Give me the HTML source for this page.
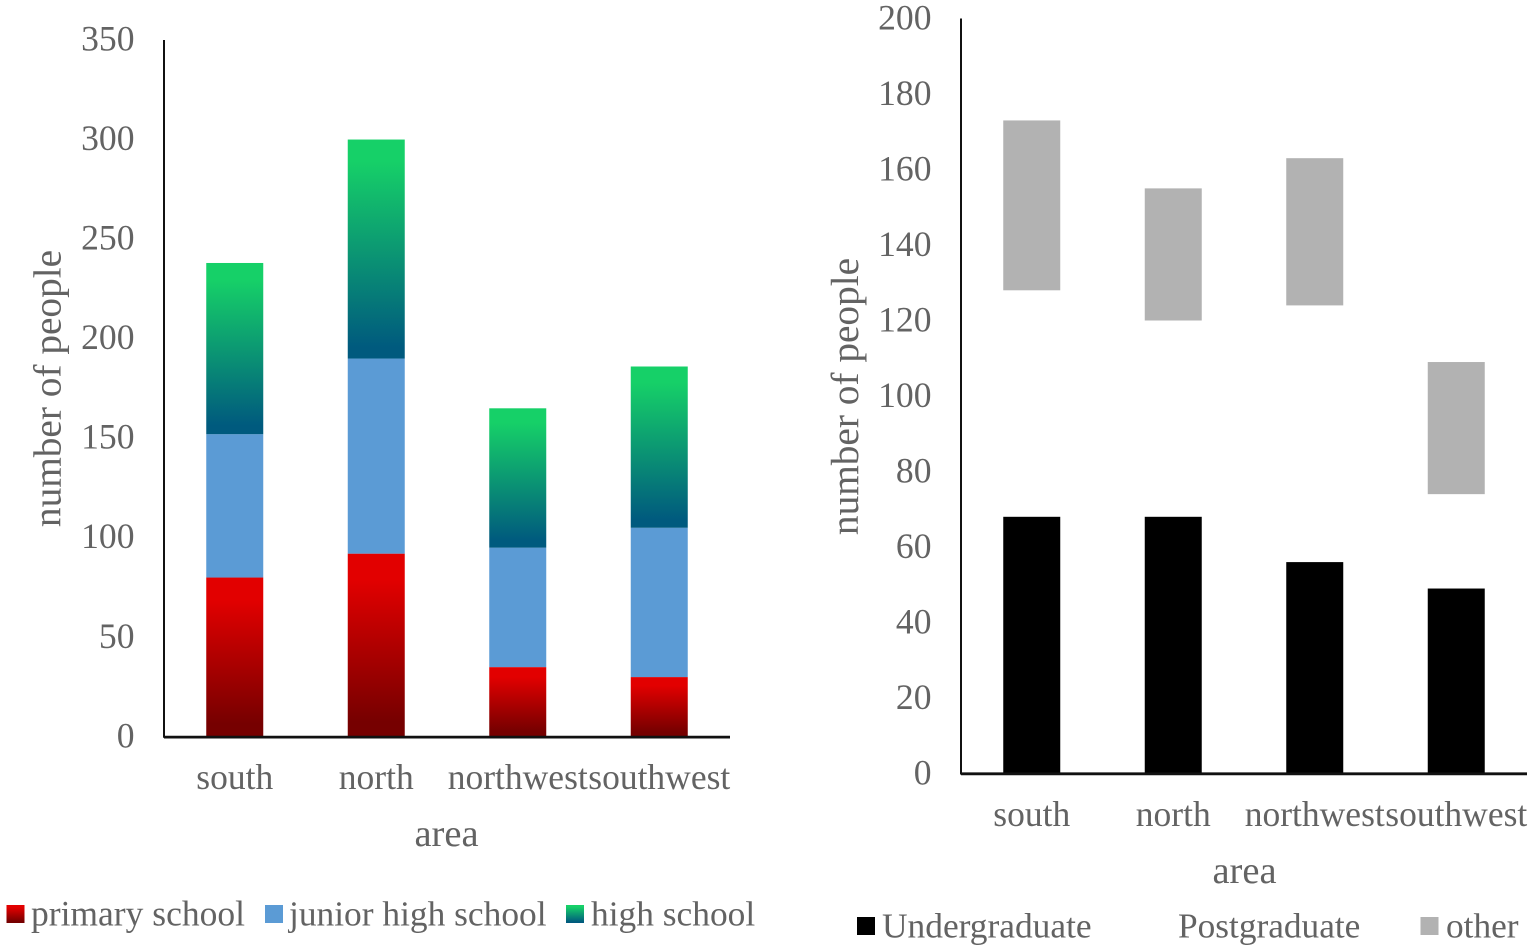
<!DOCTYPE html>
<html>
<head>
<meta charset="utf-8">
<style>
html,body{margin:0;padding:0;background:#fff;width:1535px;height:952px;overflow:hidden}
svg{display:block}
text{font-family:"Liberation Serif",serif;fill:#636363}
</style>
</head>
<body>
<svg id="figure" width="1535" height="952" viewBox="0 0 1535 952" xmlns="http://www.w3.org/2000/svg">
<defs>
<linearGradient id="grad-red" x1="0" y1="0" x2="0" y2="1">
<stop offset="0.14" stop-color="#e20000"/><stop offset="0.92" stop-color="#760000"/>
</linearGradient>
<linearGradient id="grad-green" x1="0" y1="0" x2="0" y2="1">
<stop offset="0.1" stop-color="#16d068"/><stop offset="0.95" stop-color="#005a7e"/>
</linearGradient>
</defs>
<g id="left-chart"></g>
<g id="right-chart"></g>
<g>
<g>
<rect x="6.5" y="905" width="18" height="18" fill="url(#grad-red)"/>
<text x="31" y="925.5" font-size="35.5">primary school</text>
</g>
<g>
<rect x="265" y="905" width="18" height="18" fill="#5b9bd5"/>
<text x="289" y="925.5" font-size="35.4">junior high school</text>
</g>
<g>
<rect x="566" y="905" width="18" height="18" fill="url(#grad-green)"/>
<text x="591" y="925.5" font-size="35.4">high school</text>
</g>
</g>
<g>
<g>
<rect x="857" y="917" width="18" height="18" fill="#000"/>
<text x="882" y="937.5" font-size="35.4">Undergraduate</text>
</g>
<g>
<text x="1178" y="937.5" font-size="35.3">Postgraduate</text>
</g>
<g>
<rect x="1420.5" y="917" width="18" height="18" fill="#b2b2b2"/>
<text x="1446" y="937.5" font-size="35.3">other</text>
</g>
</g>
</svg>
<script>
const categories = ['south', 'north', 'northwest', 'southwest'];
const primarySchool = [80, 92, 35, 30];
const juniorHighSchool = [72, 98, 60, 75];
const highSchool = [86, 110, 70, 81];
const undergraduate = [68, 68, 56, 49];
const postgraduate = [60, 52, 68, 25];
const other = [45, 35, 39, 35];
const leftTicks = [0, 50, 100, 150, 200, 250, 300, 350];
const rightTicks = [0, 20, 40, 60, 80, 100, 120, 140, 160, 180, 200];

const NS = 'http://www.w3.org/2000/svg';

function drawChart(groupId, prefix, geo, ticks, seriesList) {
  const g = document.getElementById(groupId);
  const maxTick = ticks[ticks.length - 1];
  const yScale = v => geo.y0 - (v / maxTick) * (geo.y0 - geo.yTop);
  const band = (geo.xRight - geo.x0) / categories.length;
  const xCenter = i => geo.x0 + band * (i + 0.5);
  const barWidth = 57;

  categories.forEach((cat, i) => {
    let cum = 0;
    seriesList.forEach(s => {
      const v = s.values[i];
      const rect = document.createElementNS(NS, 'rect');
      
      
      rect.setAttribute('x', xCenter(i) - barWidth / 2);
      rect.setAttribute('y', yScale(cum + v));
      rect.setAttribute('width', barWidth);
      rect.setAttribute('height', yScale(cum) - yScale(cum + v));
      rect.setAttribute('fill', s.fill);
      g.appendChild(rect);
      cum += v;
    });
  });

  const yAxis = document.createElementNS(NS, 'line');
  
  
  yAxis.setAttribute('x1', geo.x0);
  yAxis.setAttribute('x2', geo.x0);
  yAxis.setAttribute('y1', geo.yTop);
  yAxis.setAttribute('y2', geo.y0 + 1);
  yAxis.setAttribute('stroke', '#111');
  yAxis.setAttribute('stroke-width', '2');
  g.appendChild(yAxis);

  const xAxis = document.createElementNS(NS, 'line');
  
  
  xAxis.setAttribute('x1', geo.x0);
  xAxis.setAttribute('x2', geo.xRight);
  xAxis.setAttribute('y1', geo.y0 + 0.3);
  xAxis.setAttribute('y2', geo.y0 + 0.3);
  xAxis.setAttribute('stroke', '#111');
  xAxis.setAttribute('stroke-width', '2.8');
  g.appendChild(xAxis);

  ticks.forEach(t => {
    const label = document.createElementNS(NS, 'text');
    
    
    label.setAttribute('x', geo.tickX);
    label.setAttribute('y', yScale(t) + geo.tickDy);
    label.setAttribute('text-anchor', 'end');
    label.setAttribute('font-size', '35.6');
    label.textContent = t;
    g.appendChild(label);
  });

  categories.forEach((cat, i) => {
    const label = document.createElementNS(NS, 'text');
    
    
    label.setAttribute('x', xCenter(i));
    label.setAttribute('y', geo.catY);
    label.setAttribute('text-anchor', 'middle');
    label.setAttribute('font-size', '35.5');
    label.textContent = cat;
    g.appendChild(label);
  });

  const xTitle = document.createElementNS(NS, 'text');
  
  
  xTitle.setAttribute('x', geo.areaX);
  xTitle.setAttribute('y', geo.areaY);
  xTitle.setAttribute('text-anchor', 'middle');
  xTitle.setAttribute('font-size', '38.5');
  xTitle.textContent = 'area';
  g.appendChild(xTitle);

  const yTitle = document.createElementNS(NS, 'text');
  
  
  yTitle.setAttribute('text-anchor', 'middle');
  yTitle.setAttribute('font-size', '39.3');
  yTitle.setAttribute('transform', 'translate(' + geo.titleX + ' ' + geo.titleY + ') rotate(-90)');
  yTitle.textContent = 'number of people';
  g.appendChild(yTitle);
}

drawChart('left-chart', 'left',
  { x0: 164, xRight: 730, y0: 736.8, yTop: 40, tickX: 134.5, tickDy: 10.5, catY: 789, areaX: 446.5, areaY: 846, titleX: 60.5, titleY: 388.5 },
  leftTicks,
  [
    { name: 'primary-school', values: primarySchool, fill: 'url(#grad-red)' },
    { name: 'junior-high-school', values: juniorHighSchool, fill: '#5b9bd5' },
    { name: 'high-school', values: highSchool, fill: 'url(#grad-green)' }
  ]);

drawChart('right-chart', 'right',
  { x0: 961, xRight: 1527, y0: 773.5, yTop: 18.5, tickX: 931.5, tickDy: 11, catY: 826, areaX: 1244.5, areaY: 883, titleX: 858, titleY: 396.5 },
  rightTicks,
  [
    { name: 'undergraduate', values: undergraduate, fill: '#000' },
    { name: 'postgraduate', values: postgraduate, fill: 'none' },
    { name: 'other', values: other, fill: '#b2b2b2' }
  ]);
</script>
</body>
</html>
